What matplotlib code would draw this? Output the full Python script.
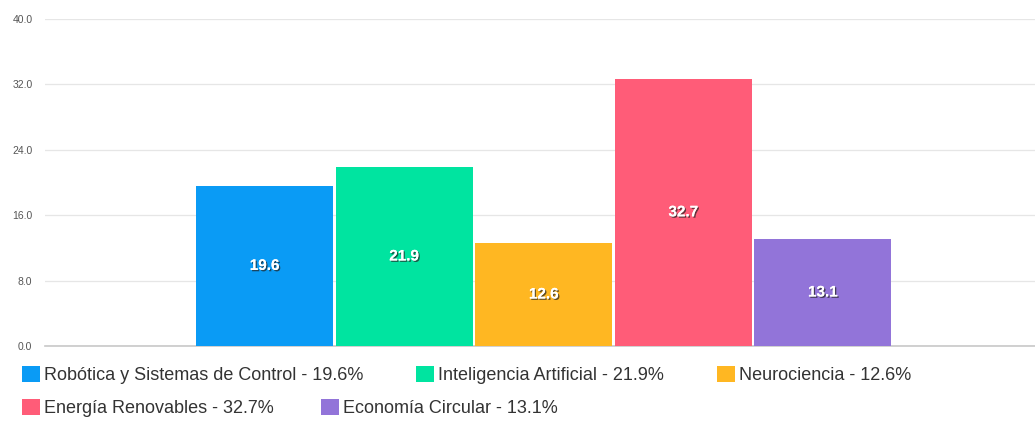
import matplotlib
matplotlib.use("Agg")
import matplotlib.pyplot as plt
import matplotlib.patheffects as pe

categories = ["Robótica y Sistemas de Control", "Inteligencia Artificial",
              "Neurociencia", "Energía Renovables", "Economía Circular"]
values = [19.6, 21.9, 12.6, 32.7, 13.1]
colors = ["#0a9bf5", "#00e4a0", "#ffb722", "#ff5c78", "#9274d9"]
yticks = [0, 8, 16, 24, 32, 40]

plt.rcParams["font.family"] = ["Liberation Sans", "DejaVu Sans"]

fig = plt.figure(figsize=(10.35, 4.21), dpi=100)
ax = fig.add_axes([45 / 1035, 75 / 421, 990 / 1035, 327 / 421])

x = list(range(len(values)))
bars = ax.bar(x, values, width=0.982, color=colors, zorder=3)

for b, v in zip(bars, values):
    ax.text(b.get_x() + b.get_width() / 2, v / 2, f"{v:.1f}",
            ha="center", va="center", color="white", fontsize=11,
            fontweight="bold", zorder=4,
            path_effects=[pe.withSimplePatchShadow(offset=(1.0, -1.0),
                                                   shadow_rgbFace="#222222",
                                                   alpha=0.7),
                          pe.Normal()])

ax.set_xlim(-1.573, 5.52)
ax.set_ylim(0, 40)
ax.set_yticks(yticks)
ax.set_yticklabels([f"{t:.1f}" for t in yticks])
ax.tick_params(axis="y", length=0, labelsize=7.5, labelcolor="#555555", pad=9)
ax.set_xticks([])
ax.grid(axis="y", color="#e6e6e6", linewidth=0.9, zorder=0)
for s in ["top", "right", "left"]:
    ax.spines[s].set_visible(False)
ax.spines["bottom"].set_color("#c8c8c8")
ax.spines["bottom"].set_linewidth(1.2)

labels = [f"{c} - {v:.1f}%" for c, v in zip(categories, values)]

common = dict(frameon=False, fontsize=13, handlelength=1.0, handleheight=1.0,
              handletextpad=0.22, borderaxespad=0, borderpad=0,
              labelcolor="#333333")
leg1 = fig.legend(bars[:3], labels[:3], ncol=3, loc="center left",
                  bbox_to_anchor=(22 / 1035, 1 - 375 / 421),
                  columnspacing=2.93, **common)
leg2 = fig.legend(bars[3:], labels[3:], ncol=2, loc="center left",
                  bbox_to_anchor=(22 / 1035, 1 - 408 / 421),
                  columnspacing=2.6, **common)

fig.savefig("out.png", dpi=100, facecolor="white")
